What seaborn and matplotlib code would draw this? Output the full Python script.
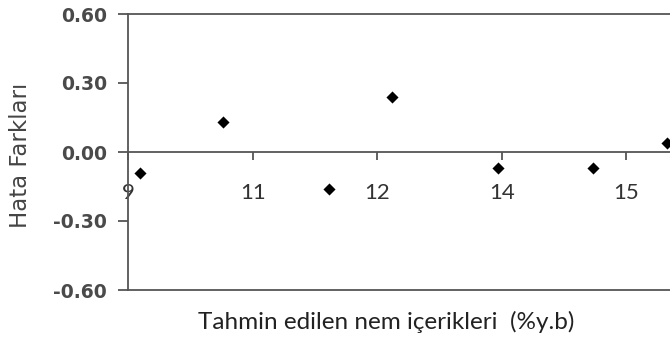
import matplotlib
matplotlib.use("Agg")
import matplotlib.pyplot as plt
import seaborn as sns
import pandas as pd

# Predicted moisture contents and the corresponding error differences
predicted = [9.14, 10.14, 11.42, 12.18, 13.45, 14.60, 15.49]
error_diff = [-0.09, 0.13, -0.16, 0.24, -0.07, -0.07, 0.04]

x_ticks = [9, 10.5, 12, 13.5, 15]
x_tick_labels = ["9", "11", "12", "14", "15"]
y_ticks = [-0.60, -0.30, 0.00, 0.30, 0.60]
y_tick_labels = ["-0.60", "-0.30", "0.00", "0.30", "0.60"]

df = pd.DataFrame({"predicted": predicted, "error": error_diff})

sns.set_style("white")
plt.rcParams["font.family"] = ["DejaVu Sans"]

fig = plt.figure(figsize=(6.70, 3.63), dpi=100)
ax = fig.add_axes([128 / 670, 73 / 363, (751 - 128) / 670, 276 / 363])

sns.scatterplot(data=df, x="predicted", y="error", marker="D", s=38,
                color="black", edgecolor="black", linewidth=0, ax=ax,
                clip_on=False, zorder=5)

ax.set_xlim(9, 16.5)
ax.set_ylim(-0.60, 0.60)

axis_col = "#555555"
for side in ["left", "top", "right"]:
    ax.spines[side].set_color(axis_col)
    ax.spines[side].set_linewidth(1.3)
ax.spines["bottom"].set_position(("data", 0))
ax.spines["bottom"].set_color(axis_col)
ax.spines["bottom"].set_linewidth(1.3)
ax.axhline(-0.60, color=axis_col, linewidth=1.3, clip_on=False, zorder=4)

ax.set_yticks(y_ticks)
ax.set_yticklabels(y_tick_labels)
ax.set_xticks(x_ticks)
ax.set_xticklabels(x_tick_labels, fontfamily="Lato", fontsize=16, color="#333333")

ax.tick_params(axis="y", direction="out", length=7, width=1.3, color=axis_col,
               labelsize=13.5, labelcolor="#4a4a4a", pad=8, left=True)
ax.tick_params(axis="x", direction="out", length=6, width=1.3, color=axis_col,
               pad=16.5, bottom=True)
for lbl in ax.get_yticklabels():
    lbl.set_fontweight("bold")

ax.set_xlabel("")
ax.set_ylabel("")
fig.text(0.5 * (195 + 578) / 670, 1 - 322 / 363,
         "Tahmin edilen nem içerikleri  (%y.b)", fontfamily="Lato",
         fontsize=17.5, color="#222222", ha="center", va="center")
fig.text(21 / 670, 1 - 155 / 363, "Hata Farkları", rotation=90,
         fontsize=16.5, color="#444444", ha="center", va="center")

fig.savefig("out.png", dpi=100)
